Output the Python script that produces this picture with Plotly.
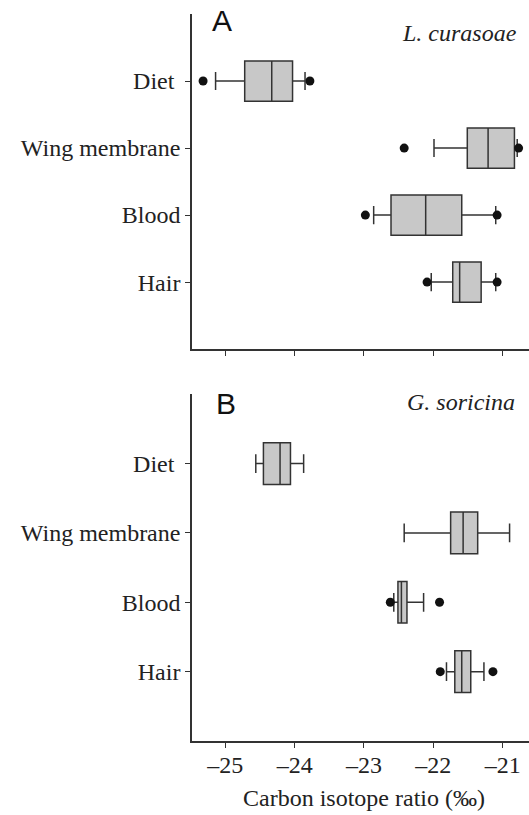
import plotly.graph_objects as go

categories = ["Diet", "Wing membrane", "Blood", "Hair"]
cat_pos = [4, 3, 2, 1]

# Panel A: L. curasoae
a_q1 = [-24.72, -21.51, -22.61, -21.72]
a_med = [-24.33, -21.21, -22.11, -21.62]
a_q3 = [-24.03, -20.83, -21.59, -21.31]
a_lo = [-25.14, -21.99, -22.86, -22.03]
a_hi = [-23.85, -20.79, -21.10, -21.10]
a_out_x = [-25.32, -23.78, -22.42, -20.77, -22.98, -21.08, -22.09, -21.08]
a_out_cat = ["Diet", "Diet", "Wing membrane", "Wing membrane", "Blood", "Blood", "Hair", "Hair"]

# Panel B: G. soricina
b_q1 = [-24.45, -21.75, -22.51, -21.69]
b_med = [-24.21, -21.57, -22.46, -21.59]
b_q3 = [-24.06, -21.36, -22.38, -21.46]
b_lo = [-24.56, -22.42, -22.57, -21.81]
b_hi = [-23.87, -20.90, -22.14, -21.27]
b_out_x = [-22.62, -21.91, -21.90, -21.14]
b_out_cat = ["Blood", "Blood", "Hair", "Hair"]

x_ticks = [-25, -24, -23, -22, -21]
x_ticktext = ["\u201325", "\u201324", "\u201323", "\u201322", "\u201321"]

pos = dict(zip(categories, cat_pos))
line_col = "#333333"
fill_col = "#c8c8c8"
serif = "Liberation Serif, Times New Roman, serif"

fig = go.Figure()

def add_panel(q1, med, q3, lo, hi, ox, ocat, xa, ya):
    fig.add_trace(go.Box(
        q1=q1, median=med, q3=q3, lowerfence=lo, upperfence=hi,
        y=cat_pos, orientation="h", width=0.6, whiskerwidth=0.45,
        fillcolor=fill_col, line=dict(color=line_col, width=1.5),
        boxpoints=False, xaxis=xa, yaxis=ya, showlegend=False, hoverinfo="skip"))
    fig.add_trace(go.Scatter(
        x=ox, y=[pos[c] for c in ocat], mode="markers",
        marker=dict(color="#111111", size=9),
        xaxis=xa, yaxis=ya, showlegend=False, hoverinfo="skip", cliponaxis=False))

add_panel(a_q1, a_med, a_q3, a_lo, a_hi, a_out_x, a_out_cat, "x", "y")
add_panel(b_q1, b_med, b_q3, b_lo, b_hi, b_out_x, b_out_cat, "x2", "y2")

xcommon = dict(range=[-25.48, -20.62], showline=True, linecolor=line_col, linewidth=1.5,
               ticks="outside", ticklen=5, tickwidth=1.2, tickcolor=line_col,
               tickvals=x_ticks, ticktext=x_ticktext, showgrid=False, zeroline=False,
               tickfont=dict(family=serif, size=24, color="#222222"))
ycommon = dict(range=[0, 5], showline=True, linecolor=line_col, linewidth=1.5,
               ticks="outside", ticklen=5, tickwidth=1.2, tickcolor=line_col,
               tickvals=cat_pos, ticktext=["Diet\u00a0", "Wing membrane", "Blood", "Hair"],
               showgrid=False, zeroline=False,
               tickfont=dict(family=serif, size=24, color="#222222"))

fig.update_layout(
    width=529, height=815,
    margin=dict(l=192, r=0, t=14, b=74),
    plot_bgcolor="white", paper_bgcolor="white",
    xaxis=dict(xcommon, anchor="y", showticklabels=False),
    yaxis=dict(ycommon, domain=[0.539, 1.0], anchor="x"),
    xaxis2=dict(xcommon, anchor="y2", ticklabelstandoff=-4),
    yaxis2=dict(ycommon, domain=[0.0, 0.477], anchor="x2"),
)

annots = [
    dict(text="A", x=222, y=20.7, font=dict(family="Liberation Sans, Arial, sans-serif", size=30, color="#111111"),
         xanchor="center", yanchor="middle"),
    dict(text="<i>L. curasoae</i>", x=519, y=33, font=dict(family=serif, size=24, color="#222222"),
         xanchor="right", yanchor="middle"),
    dict(text="B", x=226, y=403, font=dict(family="Liberation Sans, Arial, sans-serif", size=30, color="#111111"),
         xanchor="center", yanchor="middle"),
    dict(text="<i>G. soricina</i>", x=517, y=401.7, font=dict(family=serif, size=24, color="#222222"),
         xanchor="right", yanchor="middle"),
    dict(text="Carbon isotope ratio (\u2030)", x=364, y=798, font=dict(family=serif, size=24, color="#222222"),
         xanchor="center", yanchor="middle"),
]
for a in annots:
    fig.add_annotation(text=a["text"], xref="paper", yref="paper",
                       x=(a["x"] - 192) / 337, y=(741 - a["y"]) / 727,
                       xanchor=a["xanchor"], yanchor=a["yanchor"],
                       showarrow=False, font=a["font"])

fig.write_html("out.html", config={"displayModeBar": False},
               post_script="document.body.style.margin='0';document.body.style.overflow='hidden';")
